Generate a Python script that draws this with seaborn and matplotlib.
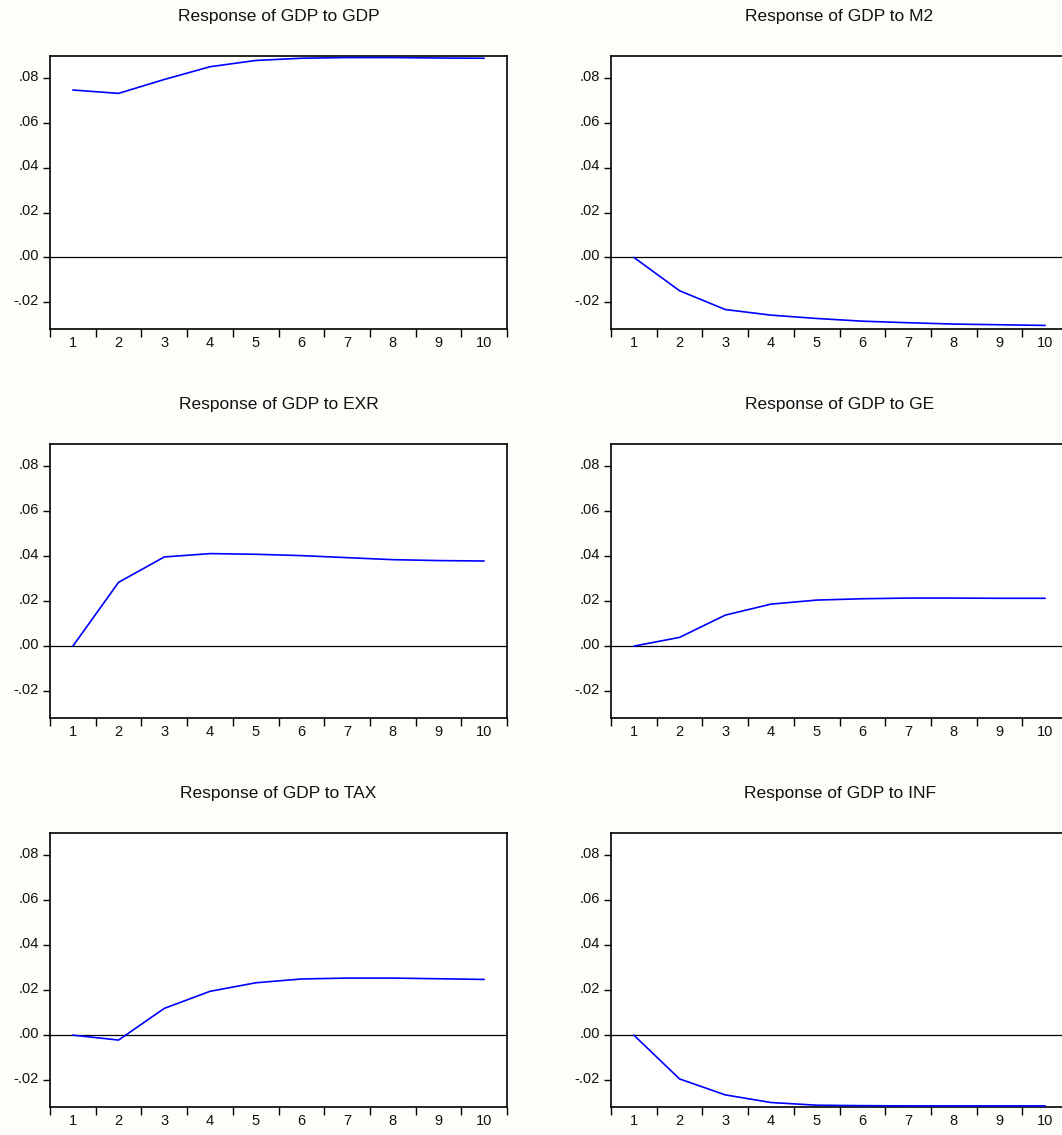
import matplotlib
matplotlib.use("Agg")
import matplotlib.pyplot as plt
import matplotlib.transforms as mtransforms
import seaborn as sns
import pandas as pd

periods = [1, 2, 3, 4, 5, 6, 7, 8, 9, 10]
titles = ["Response of GDP to GDP", "Response of GDP to M2",
          "Response of GDP to EXR", "Response of GDP to GE",
          "Response of GDP to TAX", "Response of GDP to INF"]
gdp_gdp = [0.0748, 0.0733, 0.0795, 0.0852, 0.0880, 0.0890, 0.0893, 0.0893, 0.0891, 0.0890]
gdp_m2 = [0.0, -0.0149, -0.0233, -0.0258, -0.0273, -0.0285, -0.0292, -0.0298, -0.0301, -0.0304]
gdp_exr = [0.0, 0.0284, 0.0397, 0.0412, 0.0409, 0.0403, 0.0394, 0.0385, 0.0381, 0.0379]
gdp_ge = [0.0, 0.0039, 0.0138, 0.0187, 0.0205, 0.0211, 0.0214, 0.0214, 0.0213, 0.0213]
gdp_tax = [0.0, -0.0022, 0.0119, 0.0195, 0.0233, 0.0250, 0.0254, 0.0254, 0.0251, 0.0248]
gdp_inf = [0.0, -0.0195, -0.0266, -0.0300, -0.0312, -0.0314, -0.0315, -0.0315, -0.0315, -0.0315]
series = [gdp_gdp, gdp_m2, gdp_exr, gdp_ge, gdp_tax, gdp_inf]
ytick_vals = [-0.02, 0.00, 0.02, 0.04, 0.06, 0.08]
ytick_labels = ["-.02", ".00", ".02", ".04", ".06", ".08"]

sns.set_style("white")
plt.rcParams['font.family'] = ['Liberation Sans', 'DejaVu Sans']

W, H = 1062, 1135
fig = plt.figure(figsize=(W / 100, H / 100), dpi=100)
fig.patch.set_facecolor("#fdfdfa")

col_lr = [(50, 507), (611, 1068)]
row_tb = [(56, 329), (444, 718), (833, 1107)]

for i, (title, vals) in enumerate(zip(titles, series)):
    r, c = divmod(i, 2)
    l, rr = col_lr[c]
    t, b = row_tb[r]
    ax = fig.add_axes([l / W, 1 - b / H, (rr - l) / W, (b - t) / H])
    ax.set_facecolor("white")
    df = pd.DataFrame({"period": periods, "response": vals})
    ax.axhline(0, color="black", lw=0.9, zorder=1)
    sns.lineplot(data=df, x="period", y="response", ax=ax, color="#0000ff", lw=1.2, zorder=3)
    ax.set_xlim(0.5, 10.5)
    ax.set_ylim(-0.032, 0.090)
    ax.set_xlabel("")
    ax.set_ylabel("")
    ax.set_title(title, fontsize=12.5, pad=25, color="#111111")
    # x: boundary ticks (major, unlabeled) and centered labels (minor)
    ax.set_xticks([p - 0.5 for p in periods] + [periods[-1] + 0.5])
    ax.set_xticklabels([])
    ax.set_xticks(periods, minor=True)
    ax.set_xticklabels([str(p) for p in periods], minor=True)
    ax.tick_params(axis="x", which="major", direction="out", length=6, width=1, color="black", bottom=True)
    ax.tick_params(axis="x", which="minor", length=0, pad=5, labelsize=10.5, labelcolor="#111111")
    ax.set_yticks(ytick_vals)
    ax.set_yticklabels(ytick_labels)
    ax.tick_params(axis="y", which="major", direction="out", length=5, width=1, color="black",
                   left=True, pad=3, labelsize=10.5, labelcolor="#111111")
    off = mtransforms.ScaledTranslation(0, 3 / 100, fig.dpi_scale_trans)
    for lab in ax.get_yticklabels():
        lab.set_transform(lab.get_transform() + off)
    for s in ax.spines.values():
        s.set_color("black")
        s.set_linewidth(1.2)
        s.set_visible(True)

fig.savefig("out.png", dpi=100, facecolor=fig.get_facecolor())
